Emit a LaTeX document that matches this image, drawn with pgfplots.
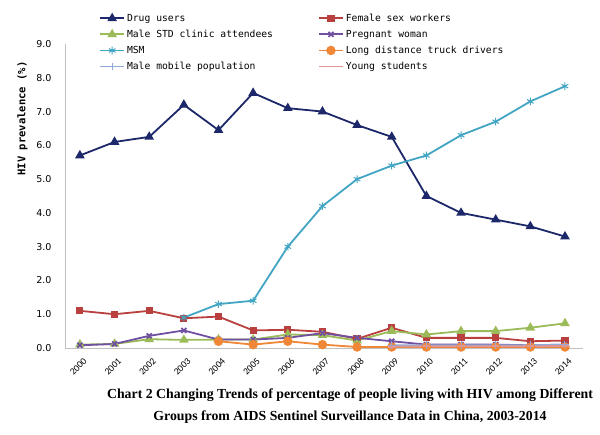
\documentclass[border=0pt]{standalone}
\usepackage{fontspec}
\usepackage{pgfplots}
\pgfplotsset{compat=1.18}
\setmainfont{DejaVu Sans}
\newfontfamily\mono{DejaVu Sans Mono}
\newfontfamily\capfont{Liberation Serif}
\newfontfamily\tickx{Carlito}
\definecolor{cDrug}{RGB}{28,40,105}
\definecolor{cFSW}{RGB}{185,64,62}
\definecolor{cSTD}{RGB}{155,187,89}
\definecolor{cPreg}{RGB}{112,80,160}
\definecolor{cMSM}{RGB}{65,165,195}
\definecolor{cTruck}{RGB}{240,135,55}
\definecolor{cMob}{RGB}{145,170,215}
\definecolor{cYoung}{RGB}{225,150,150}
\begin{document}
\begin{tikzpicture}
\path[use as bounding box] (0,0) rectangle (600bp,435bp);
\begin{axis}[
  at={(65bp,87bp)}, anchor=south west,
  scale only axis, width=518bp, height=304bp,
  xmin=1999.57, xmax=2014.52, ymin=0, ymax=9,
  axis x line=bottom, axis y line=left,
  axis line style={draw=black!25, line width=0.8bp, -},
  major tick length=0pt,
  xtick={2000,...,2014}, ytick={0,1,...,9},
  xticklabel style={xshift=3bp, yshift=-8bp, rotate=45, anchor=north east, font=\tickx\fontsize{9.5bp}{10bp}\selectfont, inner sep=1bp},
  yticklabel style={xshift=-10bp, font=\fontsize{9.5bp}{10bp}\selectfont, /pgf/number format/.cd, fixed, fixed zerofill, precision=1},
  /pgf/number format/assume math mode=true,
  x tick label style={/pgf/number format/1000 sep={}},
  ylabel={\mono\bfseries\fontsize{10.5bp}{11bp}\selectfont HIV prevalence (\%)},
  ylabel style={at={(axis description cs:-0.082,0.755)}, anchor=center},
  every axis plot/.append style={line width=1.8bp},
  legend columns=2,
  legend cell align=left,
  legend style={at={(rel axis cs:0.06,1.113)}, anchor=north west, draw=none, fill=none,
    font=\mono\fontsize{9.7bp}{11bp}\selectfont, row sep=3.2bp,
    /tikz/every even column/.append style={column sep=43bp}},
  legend image code/.code={\draw[#1] (0bp,0bp) -- (12bp,0bp) -- (24bp,0bp); \draw[#1,only marks] plot coordinates {(12bp,0bp)};},
]
\addplot[color=cDrug, mark=triangle*, mark size=3.8bp] coordinates {
 (2000,5.7) (2001,6.1) (2002,6.25) (2003,7.2) (2004,6.45) (2005,7.55) (2006,7.1) (2007,7.0)
 (2008,6.6) (2009,6.25) (2010,4.5) (2011,4.0) (2012,3.8) (2013,3.6) (2014,3.3)};
\addlegendentry{Drug users}
\addplot[color=cFSW, mark=square*, mark size=2.7bp] coordinates {
 (2000,1.1) (2001,1.0) (2002,1.1) (2003,0.88) (2004,0.93) (2005,0.52) (2006,0.54) (2007,0.48)
 (2008,0.27) (2009,0.6) (2010,0.3) (2011,0.3) (2012,0.3) (2013,0.2) (2014,0.22)};
\addlegendentry{Female sex workers}
\addplot[color=cSTD, mark=triangle*, mark size=3.8bp] coordinates {
 (2000,0.1) (2001,0.12) (2002,0.26) (2003,0.24) (2004,0.25) (2005,0.25) (2006,0.4) (2007,0.38)
 (2008,0.22) (2009,0.5) (2010,0.4) (2011,0.5) (2012,0.5) (2013,0.6) (2014,0.73)};
\addlegendentry{Male STD clinic attendees}
\addplot[color=cPreg, mark=x, mark size=3.5bp] coordinates {
 (2000,0.08) (2001,0.12) (2002,0.36) (2003,0.52) (2004,0.25) (2005,0.25) (2006,0.3) (2007,0.44)
 (2008,0.3) (2009,0.2) (2010,0.1) (2011,0.1) (2012,0.1) (2013,0.08) (2014,0.1)};
\addlegendentry{Pregnant woman}
\addplot[color=cMSM, mark=asterisk, mark size=3.8bp, mark options={line width=1bp}] coordinates {
 (2003,0.9) (2004,1.3) (2005,1.4) (2006,3.0) (2007,4.2) (2008,5.0) (2009,5.4) (2010,5.7)
 (2011,6.3) (2012,6.7) (2013,7.3) (2014,7.75)};
\addlegendentry{MSM}
\addplot[color=cTruck, mark=*, mark size=3.8bp] coordinates {
 (2004,0.2) (2005,0.1) (2006,0.2) (2007,0.1) (2008,0.03) (2009,0.03) (2010,0.03)
 (2011,0.03) (2012,0.03) (2013,0.03) (2014,0.03)};
\addlegendentry{Long distance truck drivers}
\addplot[color=cMob, mark=+, mark size=3.8bp, mark options={line width=1bp}] coordinates {
 (2009,0.08) (2010,0.08) (2011,0.08) (2012,0.08) (2013,0.08) (2014,0.1)};
\addlegendentry{Male mobile population}
\addplot[color=cYoung, mark=-, mark size=3.8bp] coordinates {
 (2009,0.04) (2010,0.05) (2011,0.05) (2012,0.05) (2013,0.05) (2014,0.06)};
\addlegendentry{Young students}
\end{axis}
\node[font=\capfont\bfseries\fontsize{13.8bp}{22bp}\selectfont, align=center, anchor=center] at (350bp,29bp)
 {Chart 2 Changing Trends of percentage of people living with HIV among Different\\Groups from AIDS Sentinel Surveillance Data in China, 2003-2014};
\end{tikzpicture}
\end{document}
